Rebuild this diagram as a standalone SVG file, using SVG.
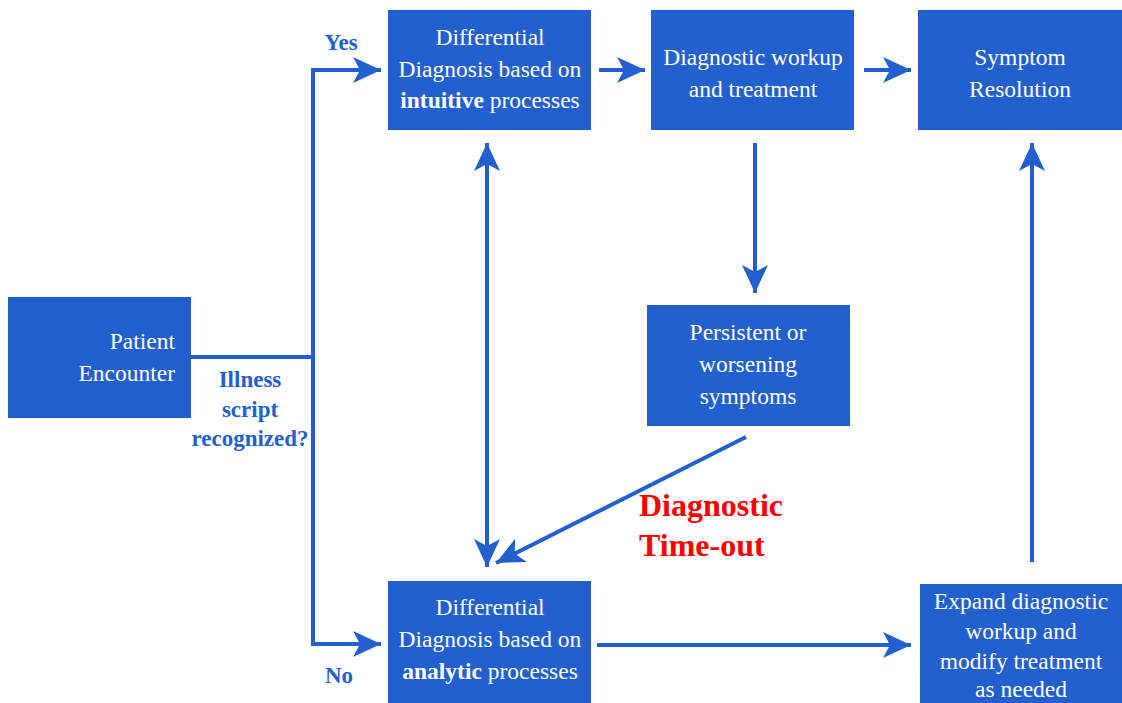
<svg xmlns="http://www.w3.org/2000/svg" width="1122" height="703" viewBox="0 0 1122 703">
<style>
.box{fill:#2360cf}
.t{font-family:"Liberation Serif","DejaVu Serif",serif;font-size:23.5px;fill:#fff;text-anchor:middle}
.lbl{font-family:"Liberation Serif","DejaVu Serif",serif;font-size:23px;font-weight:bold;fill:#2360cf;text-anchor:middle}
.red{font-family:"Liberation Serif","DejaVu Serif",serif;font-size:32px;font-weight:bold;fill:#ff0000}
.c{stroke:#2360cf;stroke-width:4;fill:none}
</style>
<defs>
<marker id="ah" markerUnits="userSpaceOnUse" markerWidth="30" markerHeight="28" refX="28" refY="14" orient="auto-start-reverse" viewBox="0 0 30 28">
<path d="M0,1 L28,14 L0,27 L7,14 z" fill="#2360cf"/>
</marker>
</defs>
<rect width="1122" height="703" fill="#fff"/>
<g id="connectors">
<polyline class="c" points="191,357 313,357"/>
<polyline class="c" points="313,357 313,70 381,70" marker-end="url(#ah)"/>
<polyline class="c" points="313,357 313,644 381,644" marker-end="url(#ah)"/>
<line class="c" x1="599" y1="70" x2="645" y2="70" marker-end="url(#ah)"/>
<line class="c" x1="864" y1="70" x2="911" y2="70" marker-end="url(#ah)"/>
<line class="c" x1="755" y1="143" x2="755" y2="293" marker-end="url(#ah)"/>
<line class="c" x1="487" y1="143" x2="487" y2="567" marker-start="url(#ah)" marker-end="url(#ah)"/>
<line class="c" x1="746" y1="437" x2="496" y2="563" marker-end="url(#ah)"/>
<line class="c" x1="597" y1="645" x2="911" y2="645" marker-end="url(#ah)"/>
<line class="c" x1="1032" y1="562" x2="1032" y2="143" marker-end="url(#ah)"/>
</g>
<g id="patient">
<rect class="box" x="8" y="297" width="183" height="121"/>
<text class="t" x="175" y="349" style="text-anchor:end">Patient</text>
<text class="t" x="175" y="381" style="text-anchor:end">Encounter</text>
</g>
<g id="intuitive">
<rect class="box" x="388" y="10" width="203" height="120"/>
<text class="t" x="490" y="45">Differential</text>
<text class="t" x="490" y="77">Diagnosis based on</text>
<text class="t" x="490" y="108"><tspan font-weight="bold">intuitive</tspan> processes</text>
</g>
<g id="workup">
<rect class="box" x="651" y="10" width="203" height="120"/>
<text class="t" x="753" y="65">Diagnostic workup</text>
<text class="t" x="753" y="97">and treatment</text>
</g>
<g id="resolution">
<rect class="box" x="918" y="10" width="204" height="120"/>
<text class="t" x="1020" y="65">Symptom</text>
<text class="t" x="1020" y="97">Resolution</text>
</g>
<g id="persistent">
<rect class="box" x="647" y="305" width="203" height="121"/>
<text class="t" x="748" y="340">Persistent or</text>
<text class="t" x="748" y="372">worsening</text>
<text class="t" x="748" y="404">symptoms</text>
</g>
<g id="analytic">
<rect class="box" x="388" y="581" width="203" height="122"/>
<text class="t" x="490" y="615">Differential</text>
<text class="t" x="490" y="647">Diagnosis based on</text>
<text class="t" x="490" y="679"><tspan font-weight="bold">analytic</tspan> processes</text>
</g>
<g id="expand">
<rect class="box" x="920" y="584" width="202" height="119"/>
<text class="t" x="1021" y="609">Expand diagnostic</text>
<text class="t" x="1021" y="639">workup and</text>
<text class="t" x="1021" y="669">modify treatment</text>
<text class="t" x="1021" y="697">as needed</text>
</g>
<g id="labels">
<text class="lbl" x="341" y="50">Yes</text>
<text class="lbl" x="339" y="683">No</text>
<text class="lbl" x="250" y="387">Illness</text>
<text class="lbl" x="250" y="417">script</text>
<text class="lbl" x="250" y="446">recognized?</text>
<text class="red" x="639" y="516">Diagnostic</text>
<text class="red" x="639" y="556">Time-out</text>
</g>
</svg>
